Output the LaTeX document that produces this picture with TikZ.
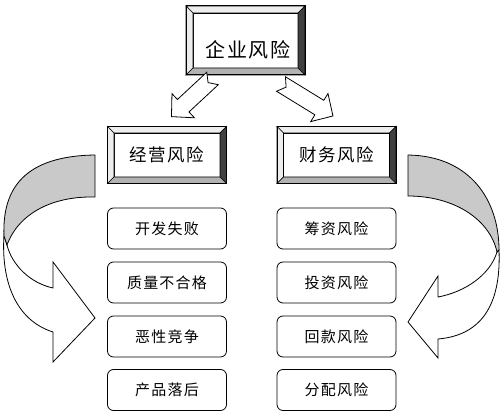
\documentclass[tikz,border=0pt]{standalone}
\usepackage{fontspec}
\newfontfamily\cjk[LetterSpace=8]{Noto Sans CJK SC}
\definecolor{bevlight}{gray}{0.93}
\definecolor{bevmid}{gray}{0.70}
\definecolor{bevdark}{gray}{0.25}
\definecolor{ribbongray}{gray}{0.79}
\tikzset{
  innerbox/.style={draw, fill=white, line width=0.8pt, outer sep=0pt, inner sep=0pt},
  riskbox/.style={draw, rounded corners=6pt, line width=0.8pt, minimum width=119pt, minimum height=41pt, font=\cjk\fontsize{15}{15}\selectfont},
  blockarr/.style={draw, fill=white, line width=0.8pt, line join=miter},
  ribbonfront/.style={draw, fill=white, line width=0.8pt},
  ribbonback/.style={draw, fill=ribbongray, line width=0.8pt}
}
% bevel frame round an inner box: #1 node, #2 bevel width
\newcommand{\bevelframe}[2]{%
  \coordinate (#1-nw) at ([shift={(-#2,#2)}]#1.north west);
  \coordinate (#1-ne) at ([shift={(#2,#2)}]#1.north east);
  \coordinate (#1-se) at ([shift={(#2,-#2)}]#1.south east);
  \coordinate (#1-sw) at ([shift={(-#2,-#2)}]#1.south west);
  \filldraw[fill=bevlight, line width=0.6pt] (#1-nw) -- (#1-ne) -- (#1.north east) -- (#1.north west) -- cycle;
  \filldraw[fill=bevlight, line width=0.6pt] (#1-nw) -- (#1.north west) -- (#1.south west) -- (#1-sw) -- cycle;
  \filldraw[fill=bevdark, line width=0.6pt] (#1-ne) -- (#1-se) -- (#1.south east) -- (#1.north east) -- cycle;
  \filldraw[fill=bevmid, line width=0.6pt] (#1-sw) -- (#1.south west) -- (#1.south east) -- (#1-se) -- cycle;
  \draw[line width=1pt] (#1-nw) rectangle (#1-se);
}
\begin{document}
\begin{tikzpicture}
    \useasboundingbox (0pt,0pt) rectangle (500pt,-411pt);
    % bevelled boxes
    \node[innerbox, minimum width=105pt, minimum height=55pt] (qiye) at (245.5pt,-40.5pt) {};
    \bevelframe{qiye}{7pt}
    \node[font=\cjk\fontsize{20}{20}\selectfont] (qiyetxt) at (248pt,-50pt) {企业风险};
    \node[innerbox, minimum width=106pt, minimum height=44pt, font=\cjk\fontsize{17.5}{17.5}\selectfont] (jingying) at (167pt,-155pt) {经营风险};
    \bevelframe{jingying}{6.5pt}
    \node[innerbox, minimum width=106pt, minimum height=44pt, font=\cjk\fontsize{17.5}{17.5}\selectfont] (caiwu) at (336.5pt,-155pt) {财务风险};
    \bevelframe{caiwu}{6.5pt}
    % block arrows
    \coordinate (jyarr) at (212.5pt,-78.5pt);
    \coordinate (cwarr) at (281pt,-84pt);
    \draw[blockarr, shift={(jyarr)}, rotate=222.9] (0pt,8.5pt) -- (40pt,8.5pt) -- (40pt,16.5pt) -- (56pt,0pt) -- (40pt,-16.5pt) -- (40pt,-8.5pt) -- (0pt,-8.5pt) -- (6pt,0pt) -- cycle;
    \draw[blockarr, shift={(cwarr)}, rotate=-31.6] (0pt,8.5pt) -- (45pt,8.5pt) -- (45pt,16.5pt) -- (61pt,0pt) -- (45pt,-16.5pt) -- (45pt,-8.5pt) -- (0pt,-8.5pt) -- (6pt,0pt) -- cycle;
    % left curved arrow
    \draw[ribbonfront] (4pt,-235pt) .. controls (1pt,-280pt) and (15pt,-320pt) .. (53pt,-332pt) -- (53pt,-362pt) -- (95pt,-318pt) -- (53pt,-262pt) -- (53pt,-288pt) .. controls (30pt,-283pt) and (12pt,-265pt) .. (7pt,-245pt) -- cycle;
    \draw[ribbonback] (95pt,-155pt) .. controls (25pt,-156pt) and (2pt,-188pt) .. (4pt,-236pt) -- (7pt,-245pt) .. controls (18pt,-215pt) and (50pt,-196pt) .. (95pt,-197pt) -- cycle;
    % right curved arrow
    \draw[ribbonfront] (499pt,-250pt) .. controls (501pt,-300pt) and (485pt,-335pt) .. (438pt,-339pt) -- (438pt,-358pt) -- (408pt,-322pt) -- (438pt,-276pt) -- (438pt,-297pt) .. controls (465pt,-292pt) and (490pt,-275pt) .. (497pt,-252pt) -- cycle;
    \draw[ribbonback] (408pt,-155pt) .. controls (470pt,-156pt) and (499pt,-200pt) .. (499pt,-250pt) -- (497pt,-252pt) .. controls (490pt,-220pt) and (455pt,-196pt) .. (408pt,-196pt) -- cycle;
    % left column
    \node[riskbox] (kaifa) at (167pt,-228.5pt) {开发失败};
    \node[riskbox] (zhiliang) at (167pt,-282.5pt) {质量不合格};
    \node[riskbox] (jingzheng) at (167pt,-336.5pt) {恶性竞争};
    \node[riskbox] (chanpin) at (167pt,-390pt) {产品落后};
    % right column
    \node[riskbox] (chouzi) at (336.5pt,-228.5pt) {筹资风险};
    \node[riskbox] (touzi) at (336.5pt,-282.5pt) {投资风险};
    \node[riskbox] (huikuan) at (336.5pt,-336.5pt) {回款风险};
    \node[riskbox] (fenpei) at (336.5pt,-390pt) {分配风险};
\end{tikzpicture}
\end{document}
